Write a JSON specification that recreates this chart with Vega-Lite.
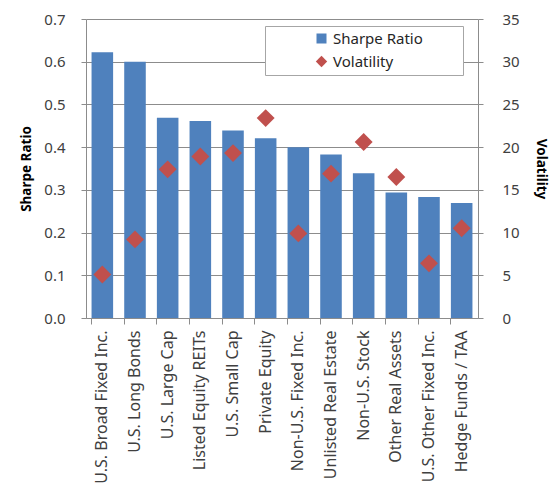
{
  "$schema": "https://vega.github.io/schema/vega-lite/v6.json",
  "width": 392,
  "height": 299,
  "autosize": {"type": "none"},
  "padding": {"left": 86, "top": 19, "right": 82, "bottom": 170},
  "background": "white",
  "config": {
    "view": {"stroke": null},
    "font": "Noto Sans",
    "axis": {
      "domainColor": "#8c8c8c",
      "tickColor": "#8c8c8c",
      "gridColor": "#8c8c8c",
      "labelColor": "#404040",
      "labelFontSize": 15,
      "titleFontSize": 13.5,
      "titleFontWeight": "bold",
      "titleColor": "#000000"
    }
  },
  "data": {
    "values": [
      {"asset": "U.S. Broad Fixed Inc.", "sharpe": 0.622, "volatility": 5.1},
      {"asset": "U.S. Long Bonds", "sharpe": 0.600, "volatility": 9.2},
      {"asset": "U.S. Large Cap", "sharpe": 0.469, "volatility": 17.4},
      {"asset": "Listed Equity REITs", "sharpe": 0.461, "volatility": 18.9},
      {"asset": "U.S. Small Cap", "sharpe": 0.439, "volatility": 19.3},
      {"asset": "Private Equity", "sharpe": 0.421, "volatility": 23.4},
      {"asset": "Non-U.S. Fixed Inc.", "sharpe": 0.400, "volatility": 9.9},
      {"asset": "Unlisted Real Estate", "sharpe": 0.383, "volatility": 16.9},
      {"asset": "Non-U.S. Stock", "sharpe": 0.339, "volatility": 20.6},
      {"asset": "Other Real Assets", "sharpe": 0.294, "volatility": 16.5},
      {"asset": "U.S. Other Fixed Inc.", "sharpe": 0.283, "volatility": 6.4},
      {"asset": "Hedge Funds / TAA", "sharpe": 0.269, "volatility": 10.5}
    ]
  },
  "encoding": {
    "x": {
      "field": "asset",
      "type": "nominal",
      "sort": null,
      "title": null,
      "scale": {"paddingInner": 0.34, "paddingOuter": 0.17},
      "axis": {
        "labelAngle": -90,
        "bandPosition": 0,
        "tickSize": 6,
        "labelPadding": 6,
        "labelFontSize": 16,
        "labelLimit": 200
      }
    }
  },
  "layer": [
    {
      "mark": {"type": "bar"},
      "encoding": {
        "y": {
          "field": "sharpe",
          "type": "quantitative",
          "title": "Sharpe Ratio",
          "scale": {"domain": [0, 0.7]},
          "axis": {
            "values": [0, 0.1, 0.2, 0.3, 0.4, 0.5, 0.6, 0.7],
            "format": ".1f",
            "grid": true,
            "tickSize": 5,
            "labelPadding": 16,
            "titlePadding": 10
          }
        },
        "color": {
          "datum": "Sharpe Ratio",
          "type": "nominal",
          "scale": {"domain": ["Sharpe Ratio", "Volatility"], "range": ["#4F81BD", "#C0504D"]},
          "legend": {
            "title": null,
            "orient": "none",
            "legendX": 179,
            "legendY": 7,
            "strokeColor": "#a6a6a6",
            "fillColor": "white",
            "padding": 5,
            "symbolOffset": 44,
            "rowPadding": 7,
            "labelFontSize": 15,
            "labelColor": "#262626",
            "labelOffset": 4,
            "labelExpr": "datum.label + '\u00a0\u00a0\u00a0\u00a0\u00a0\u00a0\u00a0\u00a0\u00a0\u200b'",
            "symbolStrokeWidth": 0,
            "encode": {
              "symbols": {
                "update": {
                  "shape": {"signal": "datum.value === 'Volatility' ? 'diamond' : 'square'"},
                  "size": {"signal": "datum.value === 'Volatility' ? 130 : 100"}
                }
              }
            }
          }
        }
      }
    },
    {
      "mark": {"type": "point", "shape": "diamond", "filled": true, "size": 320, "opacity": 1},
      "encoding": {
        "y": {
          "field": "volatility",
          "type": "quantitative",
          "title": "Volatility",
          "scale": {"domain": [0, 35]},
          "axis": {
            "orient": "right",
            "values": [0, 5, 10, 15, 20, 25, 30, 35],
            "grid": false,
            "tickSize": 5,
            "labelPadding": 19,
            "titlePadding": 14
          }
        },
        "color": {"datum": "Volatility", "type": "nominal"}
      }
    }
  ],
  "resolve": {"scale": {"y": "independent"}}
}
